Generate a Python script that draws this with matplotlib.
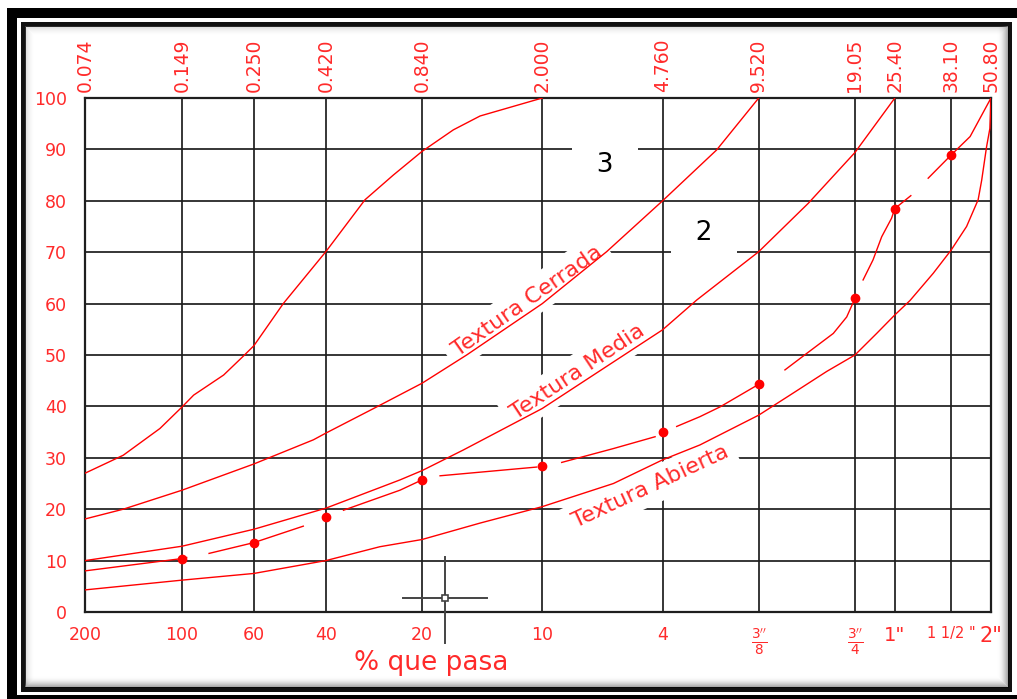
import matplotlib.pyplot as plt
from matplotlib.patches import Rectangle
from matplotlib.ticker import NullLocator

W, H = 1017, 699
RED = '#ff2a2a'
CURVE = '#ff0000'
GRID = '#1e1e1e'

# tamices: abertura en mm (arriba) y designación (abajo)
sieve_mm = [0.074, 0.149, 0.250, 0.420, 0.840, 2.000, 4.760, 9.520, 19.05, 25.40, 38.10, 50.80]
sieve_mm_labels = ['0.074', '0.149', '0.250', '0.420', '0.840', '2.000',
                   '4.760', '9.520', '19.05', '25.40', '38.10', '50.80']
sieve_names = ['200', '100', '60', '40', '20', '10', '4',
               r'$\frac{3^{\prime\prime}}{8}$', r'$\frac{3^{\prime\prime}}{4}$',
               '1"', '1 1/2 "', '2"']
pct_ticks = list(range(0, 101, 10))

# curva superior (sin rotular)
fine_mm = [0.074, 0.0975, 0.127, 0.149, 0.162, 0.201, 0.231, 0.250, 0.309, 0.420,
           0.557, 0.683, 0.840, 1.053, 1.277, 2.000]
fine_pct = [27.0, 30.5, 35.7, 39.9, 42.2, 46.1, 49.7, 51.8, 60.0, 70.1,
            80.2, 85.0, 89.6, 93.8, 96.5, 100.0]

# Textura Cerrada
closed_mm = [0.074, 0.0975, 0.149, 0.250, 0.384, 0.420, 0.606, 0.840, 1.159, 2.000,
             3.18, 4.76, 7.03, 9.52]
closed_pct = [18.1, 20.0, 23.7, 28.8, 33.5, 34.8, 39.9, 44.5, 50.0, 60.0,
              70.1, 80.0, 89.9, 100.0]

# Textura Media
medium_mm = [0.074, 0.149, 0.250, 0.420, 0.717, 0.840, 1.13, 2.000, 4.76, 6.09,
             9.52, 13.6, 19.05, 25.4]
medium_pct = [10.0, 12.8, 16.1, 20.2, 25.7, 27.5, 31.5, 39.6, 54.9, 60.7,
              70.1, 79.5, 89.4, 100.0]

# Textura Abierta
open_mm = [0.074, 0.149, 0.250, 0.420, 0.620, 0.840, 1.277, 2.000, 3.34, 4.76,
           6.23, 9.52, 11.93, 15.54, 19.05, 22.28, 25.4, 28.33, 33.5, 38.1,
           42.6, 46.3, 47.5, 49.2, 50.4, 50.8]
open_pct = [4.3, 6.2, 7.5, 10.0, 12.7, 14.1, 17.3, 20.5, 25.0, 29.6,
            32.5, 38.3, 42.2, 46.8, 50.0, 54.2, 57.8, 60.6, 65.9, 70.4,
            75.0, 80.2, 84.0, 90.5, 94.1, 100.0]

# granulometría ensayada
sample_mm = [0.149, 0.250, 0.420, 0.840, 2.000, 4.760, 9.520, 19.05, 25.40, 38.10]
sample_pct = [10.4, 13.5, 18.4, 25.7, 28.4, 35.1, 44.3, 61.0, 78.5, 88.9]

# tramos de la curva ensayada (trazo interrumpido)
sample_segments = [
    ([0.074, 0.149, 0.154], [8.0, 10.4, 10.6]),
    ([0.181, 0.250, 0.357], [11.4, 13.5, 16.7]),
    ([0.477, 0.717, 0.840], [19.8, 23.7, 25.7]),
    ([0.957, 1.921], [26.5, 28.2]),
    ([2.30, 3.34, 4.51], [29.1, 31.8, 34.1]),
    ([5.27, 6.23, 7.2, 9.52], [36.1, 38.0, 39.9, 44.3]),
    ([11.5, 13.45, 16.3, 17.95, 19.05], [47.1, 50.3, 54.2, 57.4, 61.0]),
    ([20.2, 21.7, 23.1, 24.8, 25.4, 28.5], [64.6, 68.5, 73.0, 76.6, 78.5, 81.0]),
    ([32.3, 38.1, 43.7, 50.8], [84.4, 88.9, 92.5, 100.0]),
]


def fx(px):
    return px / W


def fy(py):
    return 1 - py / H


def rect(x0, y0, x1, y1, **kw):
    return Rectangle((fx(x0), fy(y1)), fx(x1) - fx(x0), fy(y0) - fy(y1),
                     transform=fig.transFigure, zorder=-5, **kw)


fig = plt.figure(figsize=(W / 100, H / 100), dpi=100)
fig.patch.set_facecolor('white')

# marco de la ventana
fig.add_artist(rect(7, 8, 1040, 720, facecolor='black', edgecolor='none'))
fig.add_artist(rect(17, 18, 1030, 695, facecolor='white', edgecolor='none'))
fig.add_artist(rect(21, 22, 1012, 692, facecolor='#111111', edgecolor='none'))
fig.add_artist(rect(25, 26, 1008, 687, facecolor='white', edgecolor='none'))
for i in range(10):
    a = 0.14 * (1 - i / 10) ** 2
    fig.add_artist(rect(25 + i, 26 + i, 1008 - i, 687 - i, facecolor='none',
                        edgecolor=(0, 0, 0, a), linewidth=0.72))
for i in range(12):
    a = 0.30 * (1 - i / 12) ** 2
    fig.add_artist(rect(25, 26, 1008 - i, 687 - i, facecolor='none',
                        edgecolor=(0, 0, 0, a), linewidth=0.72))

ax = fig.add_axes([fx(85), fy(612), fx(991) - fx(85), fy(98) - fy(612)])
ax.set_facecolor('white')
ax.set_xscale('log')
ax.set_xlim(sieve_mm[0], sieve_mm[-1])
ax.set_ylim(0, 100)

for s in sieve_mm:
    ax.axvline(s, color=GRID, lw=1.25, zorder=1)
for p in pct_ticks:
    ax.axhline(p, color=GRID, lw=1.25, zorder=1)
for sp in ax.spines.values():
    sp.set_color(GRID)
    sp.set_linewidth(1.6)

ax.set_xticks(sieve_mm)
ax.set_xticklabels(sieve_names)
ax.xaxis.set_minor_locator(NullLocator())
ax.set_yticks(pct_ticks)
ax.tick_params(axis='x', length=0, pad=10, labelsize=12.5, labelcolor=RED)
ax.tick_params(axis='y', length=0, pad=13, labelsize=12.5, labelcolor=RED)
lbls = ax.get_xticklabels()
lbls[7].set_fontsize(14)
lbls[8].set_fontsize(14)
lbls[9].set_fontsize(14)
lbls[10].set_fontsize(10.5)
lbls[11].set_fontsize(15)

top = ax.twiny()
top.set_xscale('log')
top.set_xlim(ax.get_xlim())
top.set_xticks(sieve_mm)
top.set_xticklabels(sieve_mm_labels, rotation=90)
top.xaxis.set_minor_locator(NullLocator())
top.tick_params(axis='x', length=0, pad=4, labelsize=13.5, labelcolor=RED)
for sp in top.spines.values():
    sp.set_visible(False)

# curvas límite
for xs, ys in [(fine_mm, fine_pct), (closed_mm, closed_pct),
               (medium_mm, medium_pct), (open_mm, open_pct)]:
    ax.plot(xs, ys, color=CURVE, lw=1.0, zorder=3)

# curva ensayada
for xs, ys in sample_segments:
    ax.plot(xs, ys, color=CURVE, lw=1.0, zorder=3)
ax.plot(sample_mm, sample_pct, 'o', color=CURVE, ms=6, zorder=4)

mask = dict(boxstyle='square,pad=0.35', facecolor='white', edgecolor='none')
ax.text(1.79, 60.5, 'Textura Cerrada', rotation=35, ha='center', va='center',
        color=RED, fontsize=16, zorder=2, bbox=mask)
ax.text(2.59, 46.7, 'Textura Media', rotation=33.5, ha='center', va='center',
        color=RED, fontsize=16, zorder=2, bbox=mask)
ax.text(4.35, 24.3, 'Textura Abierta', rotation=25, ha='center', va='center',
        color=RED, fontsize=16, zorder=2, bbox=mask)

num_mask = dict(boxstyle='square,pad=0.3', facecolor='white', edgecolor='none')
ax.text(3.15, 87.0, '  3  ', ha='center', va='center', color='black',
        fontsize=19, zorder=2, bbox=num_mask)
ax.text(6.42, 73.7, '  2  ', ha='center', va='center', color='black',
        fontsize=19, zorder=2, bbox=num_mask)

# cursor
cur_x, cur_y = 0.99, 2.7
ax.plot([0.73, 1.34], [cur_y, cur_y], color='#444444', lw=1.4, zorder=5, clip_on=False)
ax.plot([cur_x, cur_x], [10.7, -6.0], color='#444444', lw=1.4, zorder=5, clip_on=False)
ax.plot(cur_x, cur_y, 's', mfc='white', mec='#444444', ms=5, mew=1.2, zorder=6,
        clip_on=False)

fig.text(fx(431), fy(663), '% que pasa', ha='center', va='center', color=RED,
         fontsize=19)

fig.savefig('out.png', dpi=100, facecolor='white')
